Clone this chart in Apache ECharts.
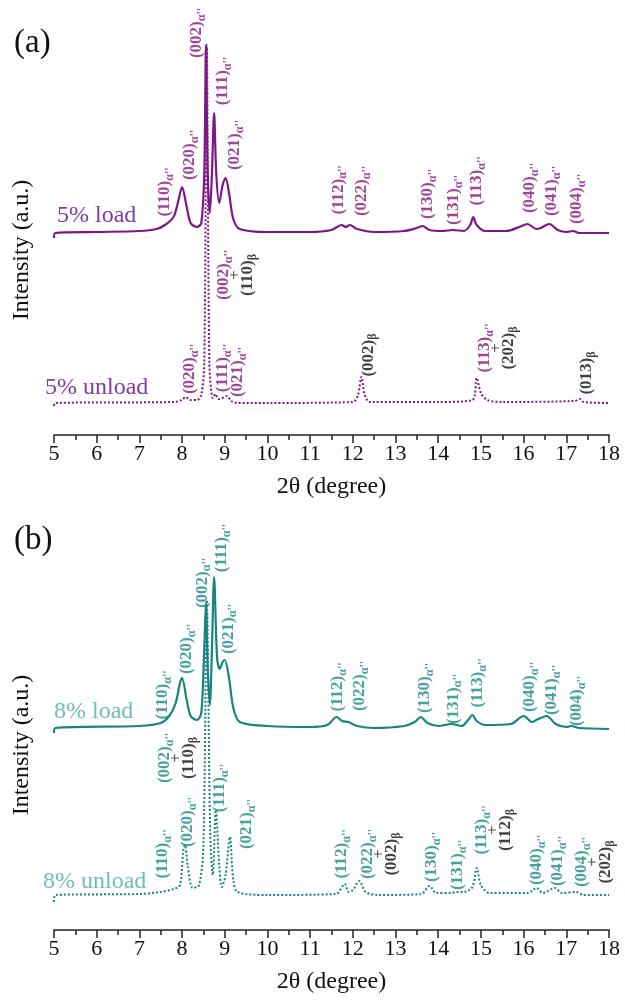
<!DOCTYPE html>
<html>
<head>
<meta charset="utf-8">
<script src="https://cdn.jsdelivr.net/npm/echarts@6/dist/echarts.min.js"></script>
<style>
  html, body { margin: 0; padding: 0; background: #fff; }
  #chart { width: 625px; height: 1001px; }
</style>
</head>
<body>
<div id="chart"></div>
<script>
// XRD patterns, 2θ vs intensity (a.u., baseline = 0)
const load5 = [[5.0,-5],[5.03,0],[6.0,1],[7.0,2],[7.4,4],[7.6,8],[7.8,16],[7.9,30],[8.0,46],[8.1,28],[8.2,10],[8.35,6],[8.45,10],[8.52,60],[8.56,188],[8.6,60],[8.65,20],[8.7,60],[8.75,120],[8.8,60],[8.87,30],[8.95,48],[9.02,55],[9.1,40],[9.2,14],[9.35,4],[10.0,1],[11.0,1],[11.5,3],[11.74,8],[11.83,6],[11.93,8],[12.1,4],[12.5,1],[13.2,2],[13.5,5],[13.63,7],[13.8,3],[14.1,2],[14.34,3],[14.6,2],[14.75,8],[14.82,16],[14.9,8],[15.1,2],[15.6,2],[15.9,6],[16.09,9],[16.3,4],[16.4,5],[16.6,9],[16.8,3],[17.0,1],[17.16,2],[17.3,0],[18.0,0]];
const unload5 = [[5.0,-3],[5.03,0],[7.8,1],[8.0,3],[8.08,6],[8.2,3],[8.35,3],[8.45,8],[8.52,40],[8.58,358],[8.64,40],[8.72,5],[8.78,9],[8.85,4],[8.95,5],[9.05,7],[9.15,2],[9.3,0],[10.0,0],[12.0,1],[12.12,8],[12.2,26],[12.28,8],[12.4,1],[14.0,1],[14.8,3],[14.9,25],[15.0,10],[15.15,3],[15.5,1],[17.2,2],[17.32,4],[17.4,1],[18.0,0]];
const load8 = [[5.0,-5],[5.03,0],[7.0,2],[7.5,5],[7.7,12],[7.85,25],[7.95,45],[8.0,50],[8.1,30],[8.2,12],[8.35,8],[8.45,15],[8.52,80],[8.56,125],[8.6,60],[8.65,23],[8.7,80],[8.75,151],[8.82,70],[8.88,59],[8.95,66],[9.0,68],[9.1,50],[9.2,20],[9.35,6],[10.0,2],[11.0,1],[11.4,3],[11.62,11],[11.75,7],[11.9,6],[12.1,2],[12.5,0],[13.2,2],[13.45,6],[13.59,11],[13.75,5],[14.0,2],[14.31,4],[14.55,2],[14.7,8],[14.8,13],[14.9,7],[15.1,3],[15.7,4],[16.0,12],[16.2,6],[16.3,8],[16.54,12],[16.75,4],[17.0,1],[17.12,2],[17.3,0],[18.0,-1]];
const unload8 = [[5.0,-7],[5.03,0],[7.0,1],[7.5,3],[7.8,6],[7.95,10],[8.03,45],[8.07,50],[8.13,30],[8.25,7],[8.4,10],[8.5,50],[8.58,295],[8.66,60],[8.72,20],[8.79,85],[8.87,30],[8.93,8],[9.02,20],[9.12,58],[9.2,15],[9.3,3],[10.0,0],[11.6,1],[11.81,11],[11.9,3],[12.0,5],[12.15,14],[12.3,3],[12.6,0],[13.6,1],[13.8,9],[13.95,2],[14.3,2],[14.43,3],[14.6,3],[14.8,8],[14.9,27],[15.0,10],[15.2,2],[16.1,2],[16.3,7],[16.45,2],[16.73,7],[16.9,2],[17.24,3],[17.4,0],[18.0,0]];

// vertical stacking of each pattern above its x axis
const offsets = { load5: 202, unload5: 32, load8: 202, unload8: 35 };

// peak labels: [2θ, height, α'' plane, β plane]
const labelsA = [
  [7.6,243,'(110)',null],[8.18,280,'(020)',null],[8.35,402,'(002)',null],[8.96,354,'(111)',null],[9.24,290,'(021)',null],
  [11.66,245,'(112)',null],[12.21,244,'(022)',null],[13.76,241,'(130)',null],[14.37,235,'(131)',null],[14.91,254,'(113)',null],
  [16.15,247,'(040)',null],[16.66,244,'(041)',null],[17.25,236,'(004)',null],
  [8.18,66,'(020)',null],[9.26,160,'(002)','(110)'],[8.96,67,'(111)',null],[9.3,63,'(021)',null],
  [12.36,80,null,'(002)'],[15.37,87,'(113)','(202)'],[17.48,62,null,'(013)']
];
const labelsB = [
  [7.55,235,'(110)',null],[8.11,281,'(020)',null],[8.47,347,'(002)',null],[8.93,382,'(111)',null],[9.08,301,'(021)',null],
  [11.65,243,'(112)',null],[12.17,244,'(022)',null],[13.69,242,'(130)',null],[14.35,231,'(131)',null],[14.93,247,'(113)',null],
  [16.15,243,'(040)',null],[16.66,240,'(041)',null],[17.25,229,'(004)',null],
  [7.55,76,'(110)',null],[8.14,108,'(020)',null],[7.88,172,'(002)','(110)'],[8.89,142,'(111)',null],[9.52,106,'(021)',null],
  [11.74,76,'(112)',null],[12.63,76,'(022)','(002)'],[13.85,73,'(130)',null],[14.46,65,'(131)',null],[15.3,100,'(113)','(112)'],
  [16.31,70,'(040)',null],[16.8,69,'(041)',null],[17.65,68,'(004)','(202)']
];

const xTicks = { min: 5, max: 18, interval: 1 };

const FONT = "'Liberation Serif', 'Times New Roman', serif";
const PURPLE = '#7d1786', PURPLE_LBL = '#86177f', PURPLE_NAME = '#7e3aa6';
const TEAL = '#17847f', TEAL_LBL = '#178a84', TEAL_NAME = '#6fbdb8';

const chart = echarts.init(document.getElementById('chart'));

function shift(arr, off) { return arr.map(p => [p[0], p[1] + off]); }

function richFor(col) {
  return {
    m: { fontFamily: FONT, fontWeight: 'bold', fontSize: 17, color: col, lineHeight: 15 },
    ms: { fontFamily: FONT, fontWeight: 'bold', fontSize: 12, color: col, lineHeight: 12, padding: [10, 0, 0, 0] },
    b: { fontFamily: FONT, fontWeight: 'bold', fontSize: 17, color: '#111', lineHeight: 15 },
    bs: { fontFamily: FONT, fontWeight: 'bold', fontSize: 12, color: '#111', lineHeight: 12, padding: [10, 0, 0, 0] },
    k: { fontFamily: FONT, fontSize: 16, color: '#333', lineHeight: 9 }
  };
}

function fmt(p) {
  const a = p.value[2], b = p.value[3];
  const parts = [];
  if (a) parts.push('{m|' + a + '}{ms|α\'\'}');
  if (a && b) parts.push('{k|+}');
  if (b) parts.push('{b|' + b + '}{bs|β}');
  return parts.join('\n');
}

function xAxisFor(idx) {
  return {
    type: 'value', gridIndex: idx, min: xTicks.min, max: xTicks.max, interval: xTicks.interval,
    name: '2θ (degree)', nameLocation: 'middle', nameGap: 40,
    nameTextStyle: { fontFamily: FONT, fontSize: 24, color: '#111' },
    axisLine: { lineStyle: { color: '#222', width: 1.5 } },
    axisTick: { length: 8, lineStyle: { color: '#222', width: 1.5 } },
    minorTick: { show: true, splitNumber: 2, length: 5, lineStyle: { color: '#222', width: 1.5 } },
    axisLabel: { fontFamily: FONT, fontSize: 22, color: '#111', margin: 8 },
    splitLine: { show: false }
  };
}
function yAxisFor(idx) {
  return { type: 'value', gridIndex: idx, min: 0, max: 435, show: false };
}

function lineSeries(name, data, idx, col, dotted) {
  return {
    name: name, type: 'line', xAxisIndex: idx, yAxisIndex: idx, data: data,
    showSymbol: false, smooth: 0.3, clip: false, silent: true,
    lineStyle: { color: col, width: dotted ? 2 : 2.2, type: dotted ? [2, 2] : 'solid' }
  };
}
function labelSeries(data, idx, col) {
  return {
    type: 'scatter', xAxisIndex: idx, yAxisIndex: idx, data: data, symbolSize: 1,
    itemStyle: { color: 'transparent' }, clip: false, silent: true, z: 5,
    label: {
      show: true, position: 'inside', rotate: 90, align: 'center', verticalAlign: 'middle',
      fontFamily: FONT, fontWeight: 'bold', fontSize: 17, color: col,
      formatter: fmt, rich: richFor(col)
    }
  };
}

function txt(x, y, text, size, col, rot) {
  return { type: 'text', x: x, y: y, rotation: rot || 0,
    style: { text: text, fontFamily: FONT, fontSize: size, fill: col, align: rot ? 'center' : 'left', verticalAlign: 'middle' } };
}

const option = {
  backgroundColor: '#fff',
  animation: false,
  grid: [
    { left: 54, right: 16, top: 0, bottom: 566 },
    { left: 54, right: 16, top: 495, bottom: 71 }
  ],
  xAxis: [xAxisFor(0), xAxisFor(1)],
  yAxis: [yAxisFor(0), yAxisFor(1)],
  graphic: [
    txt(14, 43, '(a)', 33, '#111'),
    txt(14, 540, '(b)', 33, '#111'),
    txt(22, 250, 'Intensity (a.u.)', 24, '#111', Math.PI / 2),
    txt(22, 745, 'Intensity (a.u.)', 24, '#111', Math.PI / 2),
    txt(57, 216, '5% load', 24, PURPLE_NAME),
    txt(45, 388, '5% unload', 24, PURPLE_NAME),
    txt(54, 712, '8% load', 24, TEAL_NAME),
    txt(43, 882, '8% unload', 24, TEAL_NAME)
  ],
  series: [
    lineSeries('5% unload', shift(unload5, offsets.unload5), 0, PURPLE, true),
    lineSeries('5% load', shift(load5, offsets.load5), 0, PURPLE, false),
    lineSeries('8% unload', shift(unload8, offsets.unload8), 1, TEAL, true),
    lineSeries('8% load', shift(load8, offsets.load8), 1, TEAL, false),
    labelSeries(labelsA, 0, PURPLE_LBL),
    labelSeries(labelsB, 1, TEAL_LBL)
  ]
};
chart.setOption(option);
</script>
</body>
</html>
